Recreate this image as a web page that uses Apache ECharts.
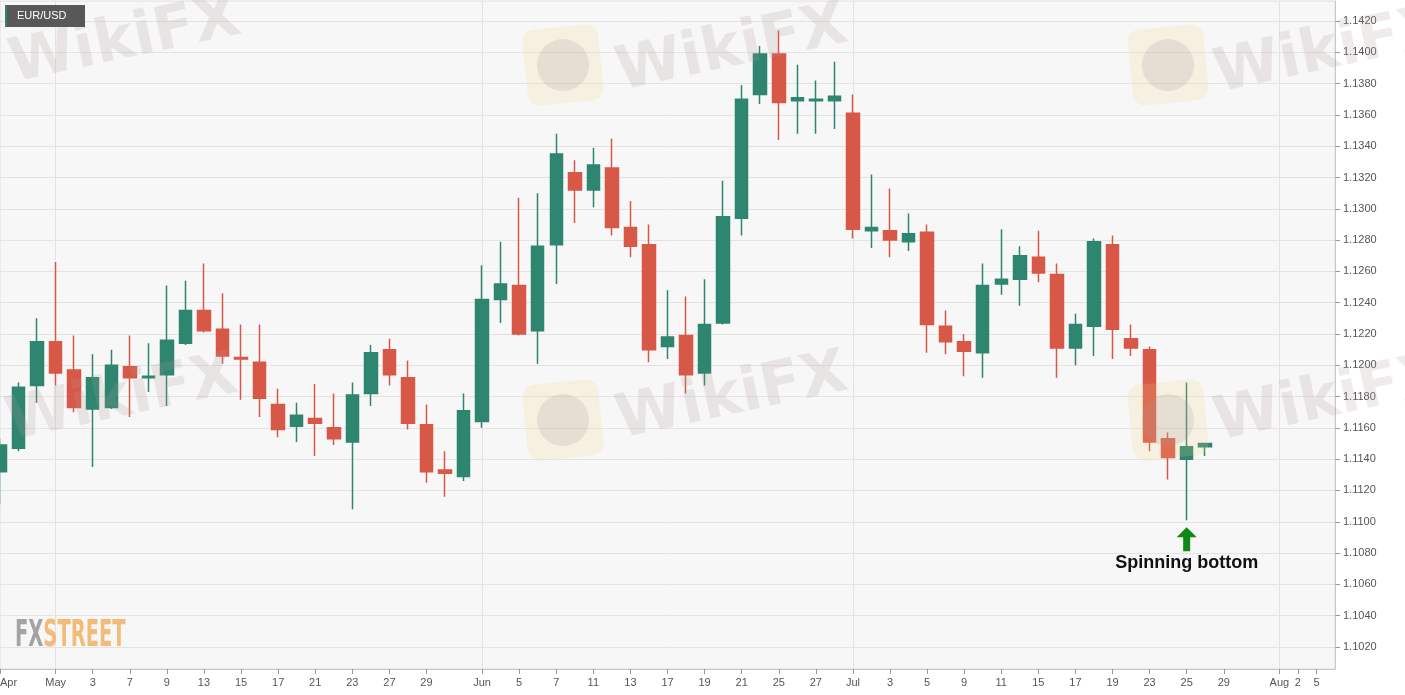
<!DOCTYPE html>
<html>
<head>
<meta charset="utf-8">
<script src="https://cdn.jsdelivr.net/npm/echarts@6/dist/echarts.min.js"></script>
<style>
html,body{margin:0;padding:0;background:#fff;}
#chart{width:1405px;height:695px;}
</style>
</head>
<body>
<div id="chart"></div>
<script>
// ---- DATA ----
const dates = [
  '2019-04-26','2019-04-29','2019-04-30',
  '2019-05-01','2019-05-02','2019-05-03','2019-05-06','2019-05-07','2019-05-08','2019-05-09','2019-05-10',
  '2019-05-13','2019-05-14','2019-05-15','2019-05-16','2019-05-17','2019-05-20','2019-05-21','2019-05-22',
  '2019-05-23','2019-05-24','2019-05-27','2019-05-28','2019-05-29','2019-05-30','2019-05-31',
  '2019-06-03','2019-06-04','2019-06-05','2019-06-06','2019-06-07','2019-06-10','2019-06-11','2019-06-12',
  '2019-06-13','2019-06-14','2019-06-17','2019-06-18','2019-06-19','2019-06-20','2019-06-21','2019-06-24',
  '2019-06-25','2019-06-26','2019-06-27','2019-06-28',
  '2019-07-01','2019-07-02','2019-07-03','2019-07-04','2019-07-05','2019-07-08','2019-07-09','2019-07-10',
  '2019-07-11','2019-07-12','2019-07-15','2019-07-16','2019-07-17','2019-07-18','2019-07-19','2019-07-22',
  '2019-07-23','2019-07-24','2019-07-25','2019-07-26'
];
const futureDates = ['2019-07-29','2019-07-30','2019-07-31','2019-08-01','2019-08-02','2019-08-05','2019-08-06'];

const open = [
  1.1132,1.1147,1.1187,
  1.1215,1.1197,1.1172,1.1173,1.1199,1.1192,1.1194,1.1214,
  1.1235,1.1223,1.1205,1.1202,1.1175,1.1161,1.1166,1.1160,
  1.1151,1.1182,1.1210,1.1192,1.1162,1.1133,1.1129,
  1.1164,1.1242,1.1251,1.1222,1.1277,1.1323,1.1312,1.1326,
  1.1288,1.1277,1.1212,1.1219,1.1195,1.1227,1.1294,1.1373,
  1.1399,1.1369,1.1369,1.1369,
  1.1361,1.1286,1.1286,1.1279,1.1285,1.1225,1.1215,1.1208,
  1.1252,1.1255,1.1269,1.1258,1.1211,1.1225,1.1277,1.1217,
  1.1210,1.1153,1.1140,1.1148
];
const close = [
  1.1149,1.1186,1.1215,
  1.1195,1.1173,1.1192,1.1200,1.1192,1.1193,1.1216,1.1235,
  1.1222,1.1206,1.1204,1.1179,1.1159,1.1168,1.1163,1.1153,
  1.1181,1.1208,1.1194,1.1163,1.1132,1.1131,1.1171,
  1.1242,1.1252,1.1220,1.1276,1.1335,1.1312,1.1328,1.1288,
  1.1276,1.1210,1.1218,1.1194,1.1226,1.1295,1.1370,1.1399,
  1.1368,1.1371,1.1370,1.1372,
  1.1287,1.1288,1.1280,1.1284,1.1226,1.1215,1.1209,1.1251,
  1.1255,1.1270,1.1259,1.1211,1.1226,1.1279,1.1223,1.1211,
  1.1151,1.1141,1.1148,1.1150
];
const low = [
  1.1111,1.1145,1.1176,
  1.1187,1.1170,1.1135,1.1172,1.1167,1.1183,1.1174,1.1213,
  1.1221,1.1201,1.1178,1.1167,1.1154,1.1151,1.1142,1.1149,
  1.1108,1.1174,1.1187,1.1159,1.1125,1.1116,1.1126,
  1.1160,1.1227,1.1219,1.1201,1.1252,1.1291,1.1301,1.1283,
  1.1269,1.1202,1.1204,1.1182,1.1187,1.1226,1.1283,1.1367,
  1.1344,1.1348,1.1348,1.1351,
  1.1281,1.1275,1.1269,1.1273,1.1208,1.1207,1.1193,1.1192,
  1.1245,1.1238,1.1253,1.1192,1.1200,1.1206,1.1204,1.1206,
  1.1145,1.1127,1.1101,1.1142
];
const high = [
  1.1153,1.1189,1.1230,
  1.1266,1.1219,1.1207,1.1210,1.1219,1.1214,1.1251,1.1254,
  1.1265,1.1246,1.1226,1.1226,1.1185,1.1176,1.1188,1.1182,
  1.1189,1.1213,1.1217,1.1203,1.1175,1.1145,1.1182,
  1.1264,1.1279,1.1307,1.1310,1.1348,1.1331,1.1339,1.1345,
  1.1305,1.1290,1.1248,1.1244,1.1255,1.1318,1.1379,1.1404,
  1.1414,1.1392,1.1382,1.1394,
  1.1373,1.1322,1.1313,1.1297,1.1290,1.1235,1.1220,1.1265,
  1.1287,1.1276,1.1286,1.1265,1.1233,1.1281,1.1283,1.1226,
  1.1212,1.1157,1.1189,1.1150
];

const tickDates = ['2019-04-26','2019-05-01','2019-05-03','2019-05-07','2019-05-09','2019-05-13','2019-05-15','2019-05-17',
  '2019-05-21','2019-05-23','2019-05-27','2019-05-29','2019-06-03','2019-06-05','2019-06-07','2019-06-11','2019-06-13',
  '2019-06-17','2019-06-19','2019-06-21','2019-06-25','2019-06-27','2019-07-01','2019-07-03','2019-07-05','2019-07-09',
  '2019-07-11','2019-07-15','2019-07-17','2019-07-19','2019-07-23','2019-07-25','2019-07-29','2019-08-01','2019-08-02','2019-08-05'];
const tickLabels = ['Apr','May','3','7','9','13','15','17','21','23','27','29','Jun','5','7','11','13','17','19','21','25','27',
  'Jul','3','5','9','11','15','17','19','23','25','29','Aug','2','5'];
const monthStarts = ['2019-05-01','2019-06-03','2019-07-01','2019-08-01'];
const yTicks = [1.1020,1.1040,1.1060,1.1080,1.1100,1.1120,1.1140,1.1160,1.1180,1.1200,1.1220,
  1.1240,1.1260,1.1280,1.1300,1.1320,1.1340,1.1360,1.1380,1.1400,1.1420];

const annotDate = '2019-07-25';
const annotText = 'Spinning bottom';
const pairName = 'EUR/USD';

// ---- BUILD ----
const axisDays = dates.concat(futureDates);
const labelMap = {};
tickDates.forEach((d, i) => { labelMap[d] = tickLabels[i]; });
const ohlc = dates.map((d, i) => [open[i], close[i], low[i], high[i]]);
const annotIdx = dates.indexOf(annotDate);

const GREEN = '#2e8570';
const RED = '#d85848';
const FONT = '"Liberation Sans", Arial, Helvetica, sans-serif';

const wmText = 'rgba(175,155,155,0.2)';
const wmLogo = 'rgba(245,210,130,0.18)';
const wmEagle = 'rgba(170,150,150,0.2)';
function watermark(tx, ty, lx, ly, withLogo) {
  const els = [{
    type: 'text', x: tx, y: ty, rotation: 0.21, silent: true, z: 100,
    style: { text: 'WikiFX', font: 'bold 60px "DejaVu Sans", sans-serif', fill: wmText, align: 'center', verticalAlign: 'middle' }
  }];
  if (withLogo) {
    els.push({
      type: 'rect', x: lx, y: ly, rotation: 0.1, silent: true, z: 99,
      shape: { x: -38, y: -38, width: 76, height: 76, r: 12 },
      style: { fill: wmLogo }
    });
    els.push({
      type: 'circle', x: lx, y: ly, silent: true, z: 100,
      shape: { cx: 0, cy: 0, r: 26 },
      style: { fill: wmEagle }
    });
  }
  return els;
}

const chart = echarts.init(document.getElementById('chart'), null, { renderer: 'canvas' });
chart.setOption({
  animation: false,
  backgroundColor: '#ffffff',
  grid: {
    left: 0, right: 70, top: 1, bottom: 26,
    outerBoundsMode: 'none',
    containLabel: false,
    show: true, backgroundColor: '#f7f7f7', borderColor: '#dcdce6', borderWidth: 1
  },
  xAxis: {
    type: 'category',
    data: axisDays,
    boundaryGap: false,
    axisLine: { show: true, lineStyle: { color: '#c8c8c8', width: 1 } },
    axisTick: {
      show: true, length: 5,
      interval: (i, v) => labelMap[v] !== undefined,
      lineStyle: { color: '#9a9a9a' }
    },
    axisLabel: {
      interval: (i, v) => labelMap[v] !== undefined,
      formatter: (v) => (v === tickDates[0] ? '{first|' + labelMap[v] + '}' : labelMap[v]),
      color: '#555', fontSize: 11, fontFamily: FONT, margin: 8,
      rich: { first: { padding: [0, 0, 0, 17], color: '#555', fontSize: 11, fontFamily: FONT } }
    },
    splitLine: {
      show: true,
      interval: (i, v) => monthStarts.indexOf(v) >= 0,
      lineStyle: { color: '#e2e2e2', width: 1 }
    }
  },
  yAxis: {
    type: 'value',
    position: 'right',
    min: 1.10059,
    max: 1.14328,
    scale: true,
    axisLine: { show: true, lineStyle: { color: '#c8c8c8', width: 1 } },
    axisTick: { show: true, length: 5, customValues: yTicks, lineStyle: { color: '#9a9a9a' } },
    axisLabel: {
      customValues: yTicks,
      formatter: (v) => Number(v).toFixed(4),
      color: '#555', fontSize: 11, fontFamily: FONT, margin: 8
    },
    splitLine: { show: true, lineStyle: { color: '#e3e3e3', width: 1 } }
  },
  series: [{
    type: 'candlestick',
    name: pairName,
    data: ohlc,
    barWidth: 13,
    clip: true,
    itemStyle: {
      color: GREEN, color0: RED,
      borderColor: GREEN, borderColor0: RED,
      borderWidth: 1.5
    },
    markPoint: {
      silent: true,
      data: [{
        coord: [annotDate, low[annotIdx]],
        symbol: 'path://M10,0 L20,10 L13.5,10 L13.5,24 L6.5,24 L6.5,10 L0,10 Z',
        symbolSize: [20, 24],
        symbolKeepAspect: false,
        symbolOffset: [0, 19],
        itemStyle: { color: '#0e8a14' },
        label: {
          show: true, position: 'bottom', distance: 3,
          formatter: annotText,
          color: '#111', fontSize: 18, fontWeight: 'bold', fontFamily: FONT
        }
      }]
    }
  }],
  graphic: [
    { type: 'rect', x: 5, y: 5, silent: true, z: 110, shape: { x: 0, y: 0, width: 80, height: 22 }, style: { fill: '#585858' } },
    { type: 'rect', x: 5, y: 5, silent: true, z: 111, shape: { x: 0, y: 0, width: 2, height: 22 }, style: { fill: GREEN } },
    { type: 'text', x: 17, y: 16, silent: true, z: 112,
      style: { text: pairName, font: '11px ' + FONT, fill: '#ffffff', align: 'left', verticalAlign: 'middle' } },
    { type: 'text', x: 15, y: 636, scaleX: 0.57, silent: true, z: 105,
      style: {
        text: '{a|FX}{b|STREET}', align: 'left', verticalAlign: 'middle',
        rich: {
          a: { font: 'bold 38px "Liberation Sans Narrow", "DejaVu Sans Condensed", sans-serif', fill: '#a3a3a3' },
          b: { font: 'bold 38px "Liberation Sans Narrow", "DejaVu Sans Condensed", sans-serif', fill: '#f3bb78' }
        }
      } }
  ].concat(
    watermark(125, 42, 0, 0, false),
    watermark(732, 50, 563, 65, true),
    watermark(1330, 52, 1168, 65, true),
    watermark(122, 400, 0, 0, false),
    watermark(732, 398, 563, 420, true),
    watermark(1330, 400, 1168, 420, true)
  )
});
</script>
</body>
</html>
